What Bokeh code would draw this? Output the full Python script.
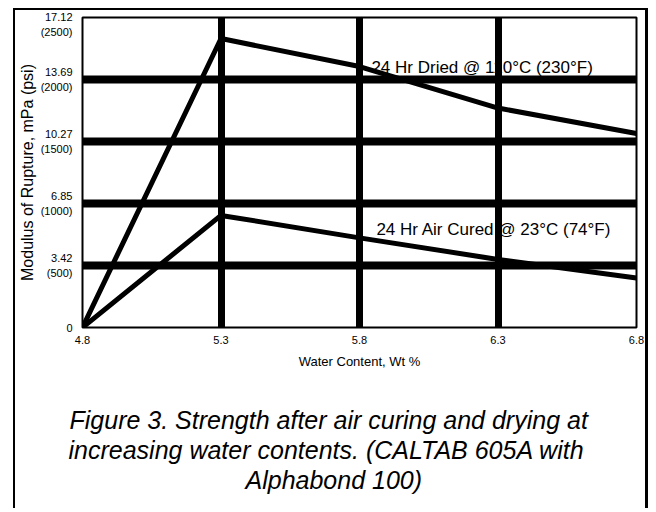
from bokeh.plotting import figure
from bokeh.models import FixedTicker, Label, Range1d, Title
from bokeh.embed import file_html
from bokeh.resources import INLINE

# ---- data ----
water = [4.8, 5.3, 5.8, 6.3, 6.8]
dried = [0.0, 15.96, 14.41, 12.12, 10.71]
air_cured = [0.0, 6.19, 4.95, 3.76, 2.73]

x_ticks = [4.8, 5.3, 5.8, 6.3, 6.8]
x_tick_labels = ["4.8", "5.3", "5.8", "6.3", "6.8"]
y_ticks = [0.0, 3.42, 6.85, 10.27, 13.69, 17.12]
y_tick_labels = ["0", "3.42\n(500)", "6.85\n(1000)", "10.27\n(1500)", "13.69\n(2000)", "17.12\n(2500)"]
x_grid = [5.3, 5.8, 6.3]
y_grid = [3.42, 6.85, 10.27, 13.69]
caption_lines = ["Figure 3. Strength after air curing and drying at",
                 "increasing water contents. (CALTAB 605A with",
                 "Alphabond 100)"]
caption_offsets = [-13, -14, 163]

FONT = "Liberation Sans"

p = figure(width=635, height=500, x_range=Range1d(4.8, 6.8), y_range=Range1d(0, 17.12),
           output_backend="svg", toolbar_location=None,
           min_border_left=67, min_border_right=14, min_border_top=7, min_border_bottom=183,
           styles={"margin-left": "13px", "margin-top": "8px",
                   "border-left": "2px solid black", "border-top": "2px solid black",
                   "border-right": "3px solid black"})
p.background_fill_color = "white"
p.border_fill_color = "white"
p.outline_line_color = "black"
p.outline_line_width = 2

p.xgrid.ticker = FixedTicker(ticks=x_grid)
p.xgrid.grid_line_color = "black"
p.xgrid.grid_line_width = 7
p.ygrid.ticker = FixedTicker(ticks=y_grid)
p.ygrid.grid_line_color = "black"
p.ygrid.grid_line_width = 8

p.xaxis.ticker = FixedTicker(ticks=x_ticks)
p.xaxis.major_label_overrides = dict(zip(x_ticks, x_tick_labels))
p.yaxis.ticker = FixedTicker(ticks=y_ticks)
p.yaxis.major_label_overrides = dict(zip(y_ticks, y_tick_labels))
for ax in (p.xaxis, p.yaxis):
    ax.axis_line_color = None
    ax.major_tick_line_color = None
    ax.minor_tick_line_color = None
    ax.major_label_text_font = FONT
    ax.major_label_text_font_size = "11px"
    ax.major_label_text_color = "black"
    ax.axis_label_text_font = FONT
    ax.axis_label_text_font_style = "normal"
    ax.axis_label_text_color = "black"
p.yaxis.major_label_text_line_height = 1.3
p.xaxis.major_label_standoff = 2
p.yaxis.major_label_standoff = 4
p.xaxis.axis_label = "Water Content, Wt %"
p.xaxis.axis_label_text_font_size = "13px"
p.xaxis.axis_label_standoff = 7
p.yaxis.axis_label = "Modulus of Rupture, mPa (psi)"
p.yaxis.axis_label_text_font_size = "16px"
p.yaxis.axis_label_standoff = 2

p.line(water, dried, line_color="black", line_width=5)
p.line(water, air_cured, line_color="black", line_width=5)

p.add_layout(Label(x=5.843, y=14.36, text="24 Hr Dried @ 110°C (230°F)", text_font=FONT,
                   text_font_size="17px", text_color="black", text_align="left",
                   text_baseline="alphabetic"))
p.add_layout(Label(x=5.861, y=5.41, text="24 Hr Air Cured @ 23°C  (74°F)", text_font=FONT,
                   text_font_size="17px", text_color="black", text_align="left",
                   text_baseline="alphabetic"))

# spacer between the axis title and the caption
p.add_layout(Title(text=" ", text_font=FONT, text_font_size="26.5px", text_line_height=1.2,
                   standoff=0), "below")
for line, off in zip(caption_lines, caption_offsets):
    p.add_layout(Title(text=line, align="left", offset=off, standoff=0,
                       text_font=FONT, text_font_size="25px", text_font_style="italic",
                       text_color="black", text_line_height=1.1), "below")

open("out.html", "w").write(file_html(p, INLINE))
